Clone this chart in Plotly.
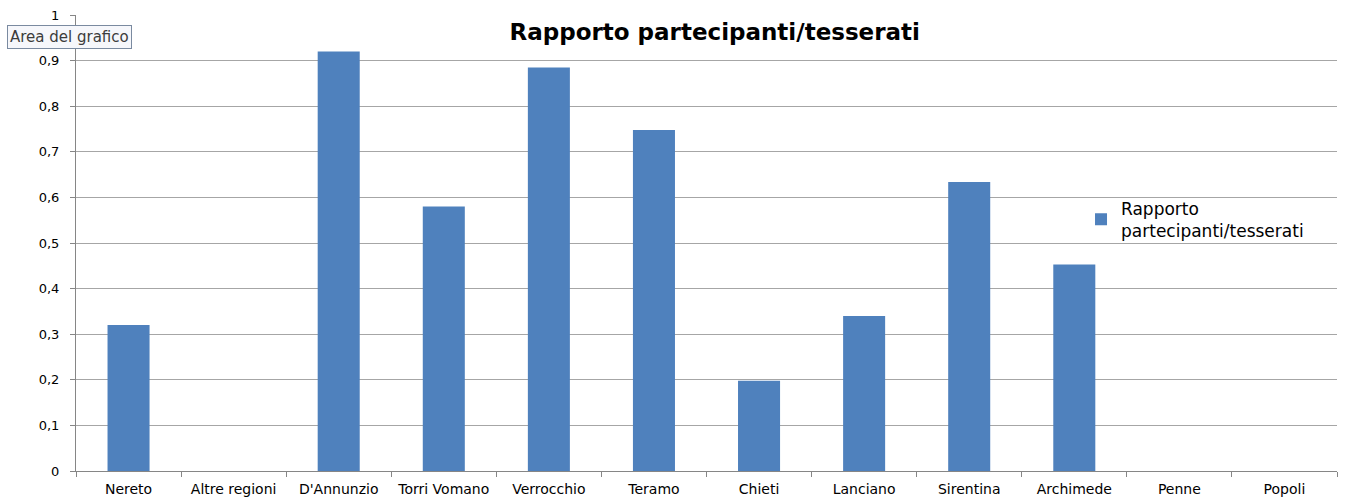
import plotly.graph_objects as go

categories = ["Nereto", "Altre regioni", "D'Annunzio", "Torri Vomano", "Verrocchio",
              "Teramo", "Chieti", "Lanciano", "Sirentina", "Archimede", "Penne", "Popoli"]
values = [0.32, None, 0.92, 0.58, 0.885, 0.748, 0.198, 0.34, 0.634, 0.453, None, None]
series_name = "Rapporto<br>partecipanti/tesserati"
y_ticks = [0, 0.1, 0.2, 0.3, 0.4, 0.5, 0.6, 0.7, 0.8, 0.9, 1]

FONT = "DejaVu Sans, sans-serif"

fig = go.Figure()
fig.add_trace(go.Bar(
    x=categories, y=values, name=series_name,
    marker=dict(color="#4f81bd", line=dict(width=0)),
    showlegend=True,
))

fig.update_layout(
    width=1346, height=497,
    margin=dict(l=76, r=9, t=15, b=26),
    paper_bgcolor="white", plot_bgcolor="white",
    separators=", ",
    bargap=0.6,
    font=dict(family=FONT, size=12, color="#000000"),
    title=dict(text="<b>Rapporto partecipanti/tesserati</b>", x=0.531, xanchor="center",
               y=0.935, yanchor="middle", font=dict(family=FONT, size=23, color="#000")),
    legend=dict(x=0.797, y=0.615, xanchor="left", yanchor="top", bgcolor="rgba(255,255,255,0)",
                font=dict(family=FONT, size=17, color="#000"), itemwidth=30, tracegroupgap=0),
    xaxis=dict(type="category", categoryorder="array", categoryarray=categories,
               showline=True, linecolor="#868686", linewidth=1, automargin=False,
               ticks="outside", tickson="boundaries", ticklen=5, tickcolor="#868686",
               ticklabelstandoff=5,
               showgrid=False, tickfont=dict(size=14), range=[-0.5, 11.5]),
    yaxis=dict(range=[0, 1], tickvals=y_ticks, showline=True, linecolor="#868686", linewidth=1,
               ticks="outside", ticklen=5, tickcolor="#868686", automargin=False,
               ticklabelstandoff=8,
               showgrid=True, gridcolor="#a6a6a6", gridwidth=1, zeroline=False,
               tickfont=dict(size=13)),
)

fig.add_annotation(
    text="Area del grafico", xref="paper", yref="paper", x=-0.0547, y=0.952,
    xanchor="left", yanchor="middle", showarrow=False,
    font=dict(family=FONT, size=15, color="#3c3c3c"),
    bgcolor="#f6f7fb", bordercolor="#7a8aa0", borderwidth=1, borderpad=2,
)

fig.write_html("out.html", config={"displayModeBar": False},
               post_script="document.body.style.margin='0';document.body.style.overflow='hidden';")
